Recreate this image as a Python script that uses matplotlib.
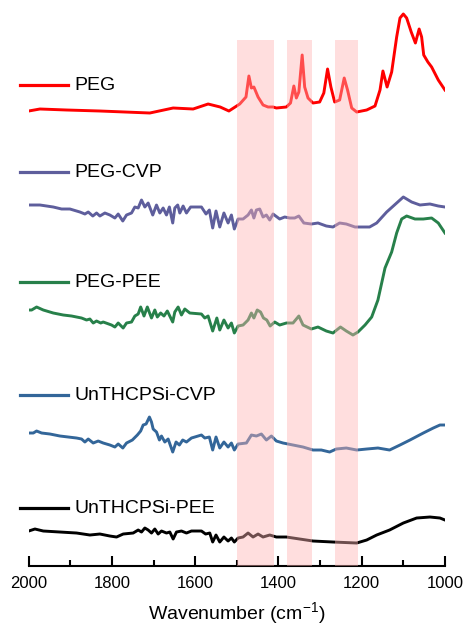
import numpy as np
import matplotlib
matplotlib.use('Agg')
import matplotlib.pyplot as plt
from matplotlib import rcParams

rcParams.update({'font.size': 12})
plt.rc('font', family='Liberation Sans')
rcParams['mathtext.default'] = 'regular'

# FTIR spectra, stacked (a.u.)
wn_peg = [2000, 1973, 1909, 1829, 1709, 1653, 1605, 1569, 1540, 1519, 1493, 1478, 1471, 1465,
          1459, 1449, 1437, 1425, 1413, 1405, 1381, 1371, 1363, 1357, 1351, 1343, 1337, 1329,
          1317, 1301, 1291, 1282, 1274, 1265, 1253, 1242, 1234, 1224, 1212, 1188, 1168, 1156,
          1149, 1139, 1128, 1116, 1108, 1100, 1092, 1081, 1071, 1062, 1056, 1051, 1041, 1032,
          1016, 1000]
peg = [4.55, 4.57, 4.56, 4.55, 4.53, 4.58, 4.57, 4.62, 4.59, 4.55, 4.62, 4.69, 4.90, 4.78,
       4.79, 4.69, 4.61, 4.59, 4.59, 4.58, 4.59, 4.63, 4.80, 4.68, 4.74, 5.11, 4.79, 4.68,
       4.63, 4.64, 4.73, 4.97, 4.79, 4.64, 4.66, 4.88, 4.76, 4.58, 4.54, 4.56, 4.60, 4.76,
       4.95, 4.79, 4.94, 5.29, 5.48, 5.52, 5.48, 5.34, 5.23, 5.37, 5.29, 5.11, 5.04, 4.99,
       4.86, 4.76]

wn_peg_cvp = [2000, 1973, 1941, 1921, 1901, 1877, 1865, 1857, 1846, 1837, 1829, 1817, 1805,
              1793, 1785, 1774, 1765, 1753, 1745, 1737, 1729, 1721, 1713, 1702, 1693, 1685,
              1677, 1669, 1662, 1654, 1649, 1642, 1637, 1629, 1621, 1611, 1585, 1574, 1566,
              1558, 1550, 1541, 1531, 1521, 1513, 1506, 1497, 1485, 1473, 1465, 1459, 1453,
              1445, 1437, 1429, 1421, 1413, 1397, 1385, 1373, 1361, 1351, 1339, 1321, 1305,
              1285, 1269, 1253, 1237, 1216, 1181, 1164, 1140, 1116, 1100, 1080, 1060, 1036,
              1016, 1000]
peg_cvp = [3.61, 3.61, 3.59, 3.57, 3.57, 3.54, 3.52, 3.54, 3.50, 3.53, 3.50, 3.53, 3.51,
           3.48, 3.52, 3.45, 3.51, 3.53, 3.59, 3.58, 3.66, 3.59, 3.63, 3.51, 3.61, 3.53,
           3.58, 3.51, 3.59, 3.43, 3.58, 3.61, 3.53, 3.60, 3.53, 3.59, 3.59, 3.52, 3.56,
           3.38, 3.55, 3.39, 3.53, 3.43, 3.51, 3.37, 3.47, 3.47, 3.51, 3.56, 3.48, 3.56,
           3.57, 3.49, 3.51, 3.46, 3.52, 3.47, 3.49, 3.48, 3.48, 3.50, 3.43, 3.42, 3.43,
           3.40, 3.39, 3.43, 3.42, 3.39, 3.39, 3.43, 3.54, 3.63, 3.69, 3.64, 3.61, 3.62,
           3.60, 3.59]

wn_peg_pee = [2000, 1993, 1981, 1965, 1941, 1917, 1897, 1873, 1861, 1853, 1845, 1837, 1827,
              1821, 1801, 1793, 1785, 1773, 1765, 1753, 1745, 1737, 1731, 1723, 1715, 1705,
              1697, 1691, 1683, 1675, 1667, 1654, 1649, 1641, 1633, 1625, 1613, 1585, 1577,
              1569, 1558, 1548, 1541, 1531, 1521, 1513, 1506, 1497, 1485, 1473, 1465, 1459,
              1451, 1443, 1436, 1428, 1420, 1409, 1397, 1381, 1365, 1351, 1341, 1321, 1305,
              1285, 1269, 1251, 1237, 1221, 1209, 1192, 1176, 1161, 1144, 1128, 1116, 1104,
              1092, 1072, 1052, 1032, 1016, 1000]
peg_pee = [2.56, 2.56, 2.59, 2.56, 2.53, 2.51, 2.50, 2.48, 2.46, 2.47, 2.43, 2.45, 2.43,
           2.44, 2.41, 2.39, 2.43, 2.38, 2.43, 2.44, 2.50, 2.52, 2.59, 2.50, 2.59, 2.48,
           2.56, 2.49, 2.53, 2.50, 2.55, 2.44, 2.54, 2.59, 2.51, 2.57, 2.53, 2.52, 2.48,
           2.50, 2.35, 2.48, 2.36, 2.46, 2.38, 2.43, 2.33, 2.40, 2.41, 2.46, 2.53, 2.48,
           2.56, 2.54, 2.48, 2.46, 2.40, 2.44, 2.41, 2.43, 2.43, 2.50, 2.41, 2.37, 2.39,
           2.35, 2.33, 2.39, 2.35, 2.31, 2.34, 2.41, 2.49, 2.66, 2.98, 3.14, 3.33, 3.47,
           3.50, 3.47, 3.47, 3.48, 3.43, 3.33]

wn_si_cvp = [2000, 1989, 1981, 1969, 1949, 1925, 1905, 1885, 1873, 1865, 1857, 1845, 1833,
             1821, 1805, 1793, 1785, 1774, 1765, 1751, 1739, 1731, 1725, 1718, 1710, 1705,
             1701, 1693, 1686, 1681, 1673, 1665, 1654, 1646, 1638, 1630, 1621, 1609, 1585,
             1577, 1566, 1558, 1550, 1541, 1531, 1521, 1513, 1506, 1497, 1477, 1465, 1453,
             1441, 1429, 1417, 1405, 1389, 1365, 1341, 1317, 1297, 1277, 1261, 1237, 1212,
             1188, 1161, 1133, 1108, 1084, 1052, 1028, 1012, 1000]
si_cvp = [1.33, 1.33, 1.35, 1.33, 1.32, 1.30, 1.29, 1.28, 1.27, 1.24, 1.27, 1.23, 1.25,
          1.23, 1.21, 1.19, 1.22, 1.18, 1.23, 1.26, 1.31, 1.35, 1.41, 1.42, 1.49, 1.44,
          1.37, 1.34, 1.26, 1.30, 1.24, 1.27, 1.14, 1.24, 1.21, 1.26, 1.24, 1.28, 1.31,
          1.28, 1.29, 1.16, 1.29, 1.18, 1.24, 1.19, 1.23, 1.16, 1.22, 1.23, 1.31, 1.30,
          1.32, 1.26, 1.30, 1.25, 1.23, 1.21, 1.19, 1.16, 1.16, 1.14, 1.17, 1.18, 1.16,
          1.17, 1.18, 1.16, 1.21, 1.26, 1.33, 1.38, 1.41, 1.41]

wn_si_pee = [2000, 1985, 1965, 1925, 1885, 1853, 1829, 1805, 1789, 1773, 1749, 1737, 1729,
             1721, 1713, 1705, 1697, 1689, 1681, 1669, 1661, 1653, 1645, 1633, 1621, 1609,
             1585, 1575, 1565, 1558, 1550, 1541, 1531, 1521, 1513, 1506, 1497, 1485, 1473,
             1461, 1449, 1437, 1421, 1405, 1381, 1349, 1317, 1269, 1212, 1188, 1164, 1133,
             1100, 1068, 1036, 1012, 1000]
si_pee = [0.35, 0.37, 0.35, 0.34, 0.33, 0.31, 0.32, 0.30, 0.29, 0.32, 0.33, 0.36, 0.34,
          0.38, 0.36, 0.33, 0.37, 0.32, 0.35, 0.33, 0.34, 0.27, 0.34, 0.35, 0.33, 0.35,
          0.35, 0.32, 0.33, 0.24, 0.31, 0.24, 0.29, 0.25, 0.28, 0.24, 0.28, 0.29, 0.33,
          0.29, 0.32, 0.29, 0.31, 0.29, 0.29, 0.27, 0.25, 0.24, 0.23, 0.26, 0.31, 0.36,
          0.43, 0.48, 0.49, 0.48, 0.46]

names = ['PEG', 'PEG-CVP', 'PEG-PEE', 'UnTHCPSi-CVP', 'UnTHCPSi-PEE']
colors = ['#ff0000', '#5e5e9c', '#27804a', '#336699', '#000000']
label_y = [4.81, 3.94, 2.84, 1.71, 0.58]

# highlighted regions (cm-1)
bands = [(1500, 1410), (1380, 1320), (1265, 1210)]
band_top = 5.26

fig = plt.figure(figsize=(4.63, 6.28), dpi=100)
ax1 = fig.add_axes([0.062, 0.0987, 0.899, 0.9013])

spectra = [(wn_peg, peg), (wn_peg_cvp, peg_cvp), (wn_peg_pee, peg_pee),
           (wn_si_cvp, si_cvp), (wn_si_pee, si_pee)]
for (x, y), c in zip(spectra, colors):
    ax1.plot(x, y, '-', c=c, lw=2.1, solid_joinstyle='round', zorder=2)

for hi, lo in bands:
    ax1.fill_between([lo, hi], 0, band_top, color=(1, 0.7, 0.7), alpha=0.43,
                     lw=0, zorder=3)

# labels with line keys
for name, c, ly in zip(names, colors, label_y):
    ax1.plot([2022, 1905], [ly, ly], '-', c=c, lw=2.3, clip_on=False)
    ax1.text(1891, ly, name, fontsize=14, va='center', ha='left')

ax1.set_xlim(2000, 1000)
ax1.set_ylim(0, 5.66)
for s in ['top', 'right', 'left']:
    ax1.spines[s].set_visible(False)
ax1.spines['bottom'].set_linewidth(1.5)
ax1.set_yticks([])
ax1.set_xticks(np.arange(1000, 2001, 200))
ax1.set_xticks(np.arange(1100, 2000, 200), minor=True)
ax1.tick_params(axis='x', which='major', direction='in', length=7, width=1.5,
                labelsize=12, pad=7)
ax1.tick_params(axis='x', which='minor', direction='in', length=4, width=1.5)
ax1.set_xlabel('Wavenumber (cm$^{-1}$)', fontsize=14, labelpad=7)

fig.savefig('out.png', dpi=100)
